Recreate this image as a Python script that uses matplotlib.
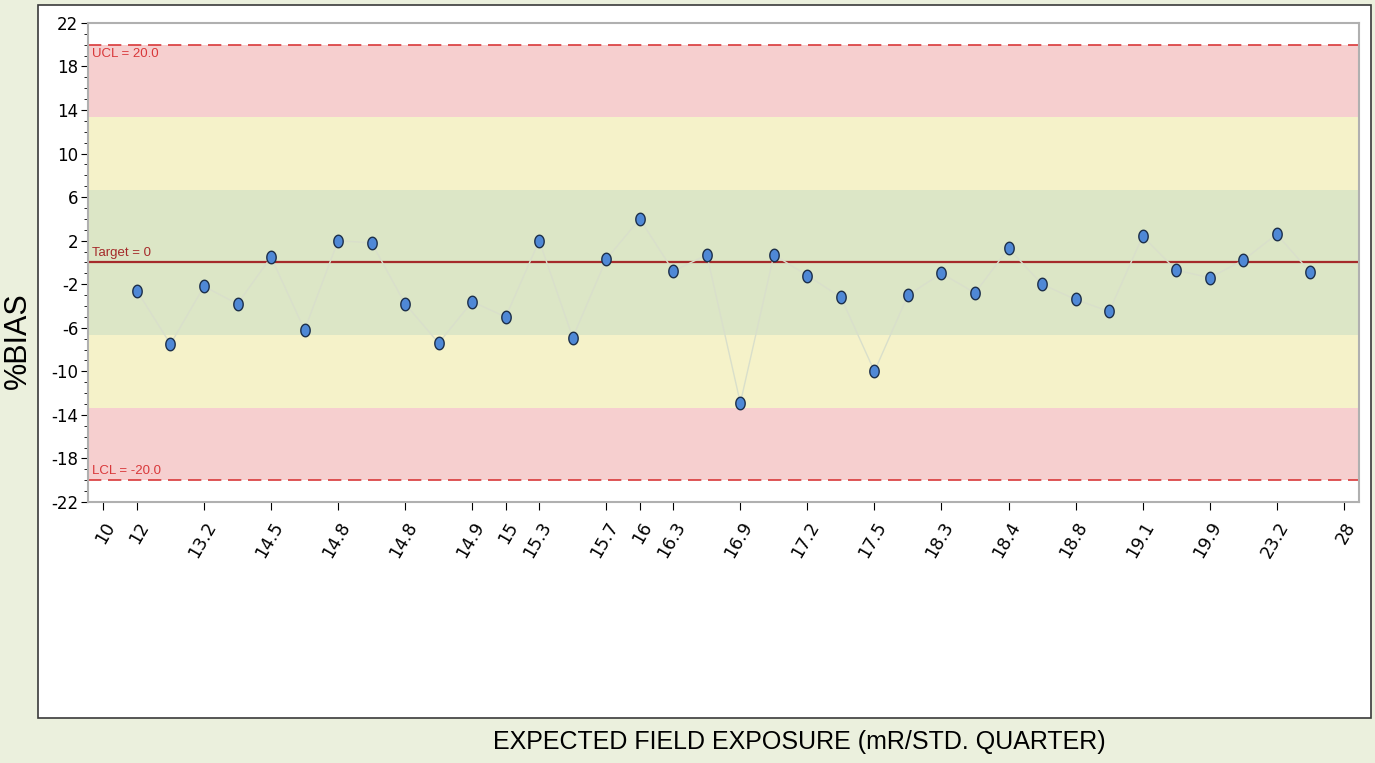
import numpy as np
import matplotlib.pyplot as plt
from matplotlib.patches import Rectangle
from matplotlib.path import Path
from matplotlib.ticker import MultipleLocator

plt.rcParams['axes.unicode_minus'] = False

# --- data ---
bias = [-2.6, -7.5, -2.2, -3.8, 0.5, -6.2, 2.0, 1.8, -3.8,
        -7.4, -3.6, -5.0, 2.0, -6.9, 0.3, 4.0, -0.8, 0.7, -12.9,
        0.7, -1.2, -3.2, -10.0, -3.0, -1.0, -2.8, 1.3, -2.0, -3.4,
        -4.5, 2.4, -0.7, -1.4, 0.2, 2.6, -0.9]
tick_idx = [-1, 0, 2, 4, 6, 8, 10, 11, 12, 14, 15, 16, 18, 20, 22, 24, 26, 28, 30, 32, 34, 36]
tick_labels = ['10', '12', '13.2', '14.5', '14.8', '14.8', '14.9', '15', '15.3', '15.7', '16',
               '16.3', '16.9', '17.2', '17.5', '18.3', '18.4', '18.8', '19.1', '19.9', '23.2', '28']
ucl, target, lcl = 20.0, 0.0, -20.0
zone_edges = [-20, -40 / 3, -20 / 3, 20 / 3, 40 / 3, 20]
zone_colors = ['#f6cfcf', '#f5f2c9', '#dce6c6', '#f5f2c9', '#f6cfcf']

narrow = ['Liberation Sans', 'DejaVu Sans']

fig = plt.figure(figsize=(13.75, 7.63), dpi=100, facecolor='#ebf0dd')

# white panel with dark border, behind the axes
fig.patches.append(Rectangle((0.0276, 0.059), 0.9695, 0.9345, transform=fig.transFigure,
                             facecolor='white', edgecolor='#3a3a3a', linewidth=1.2, zorder=-5))

ax = fig.add_axes([0.064, 0.342, 0.9245, 0.628])
ax.set_zorder(2)
ax.set_facecolor('white')

# control zones
for lo, hi, c in zip(zone_edges[:-1], zone_edges[1:], zone_colors):
    ax.axhspan(lo, hi, color=c, linewidth=0, zorder=0)

x = np.arange(len(bias))
ax.axhline(ucl, color='#d9383a', linestyle=(0, (8, 4)), linewidth=1.2, zorder=2)
ax.axhline(lcl, color='#d9383a', linestyle=(0, (8, 4)), linewidth=1.2, zorder=2)
ax.axhline(target, color='#a52a2a', linewidth=1.6, zorder=2)

ax.plot(x, bias, color='#d9dfcb', linewidth=1.0, zorder=3)

t = np.linspace(0, 2 * np.pi, 40)
oval = Path(np.column_stack([0.75 * np.cos(t), np.sin(t)]), closed=True)
ax.plot(x, bias, linestyle='none', marker=oval, markersize=9,
        markerfacecolor='#4f88d6', markeredgecolor='#1c2f4a', markeredgewidth=1.0, zorder=4)

ax.text(-1.35, ucl - 0.3, 'UCL = 20.0', color='#d9383a', fontsize=9.5, family=narrow,
        ha='left', va='top', zorder=5)
ax.text(-1.35, target + 0.3, 'Target = 0', color='#a52a2a', fontsize=9.5, family=narrow,
        ha='left', va='bottom', zorder=5)
ax.text(-1.35, lcl + 0.3, 'LCL = -20.0', color='#d9383a', fontsize=9.5, family=narrow,
        ha='left', va='bottom', zorder=5)

ax.set_xlim(-1.46, 36.46)
ax.set_ylim(-22, 22)
ax.set_xticks(tick_idx)
ax.set_xticklabels(tick_labels, rotation=60, ha='right', rotation_mode='anchor', fontsize=12.5)
ax.yaxis.set_major_locator(MultipleLocator(4))
ax.yaxis.set_minor_locator(MultipleLocator(1))
ax.set_yticks(np.arange(-22, 23, 4))
ax.tick_params(axis='y', which='major', length=5, labelsize=12, pad=2)
ax.tick_params(axis='y', which='minor', length=3)
ax.tick_params(axis='x', length=6, pad=6)

for side in ['top', 'right', 'bottom', 'left']:
    ax.spines[side].set_color('#b0b0b0')
    ax.spines[side].set_linewidth(1.5)

fig.text(0.013, 0.554, '%BIAS', rotation=90, ha='center', va='center', fontsize=22,
         family='Liberation Sans')
fig.text(0.581, 0.027, 'EXPECTED FIELD EXPOSURE (mR/STD. QUARTER)', ha='center', va='center',
         fontsize=18, family=narrow)

fig.savefig('out.png', dpi=100, facecolor=fig.get_facecolor())
